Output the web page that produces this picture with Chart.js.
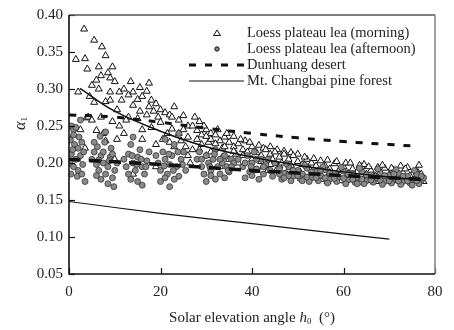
<!DOCTYPE html>
<html>
<head>
<meta charset="utf-8">
<script src="https://cdn.jsdelivr.net/npm/chart.js@4.4.1/dist/chart.umd.min.js"></script>
<style>
  html, body { margin: 0; padding: 0; background: #fff; }
</style>
</head>
<body>
<canvas id="chart" width="454" height="330"></canvas>
<script>
// scatter data: [solar elevation angle, alpha1]
const morningPts = [
  [1.5,0.340],[3.3,0.381],[3.5,0.341],[5.5,0.366],[7.2,0.357],[6.5,0.330],[8,0.345],[7,0.318],[8.5,0.322],[9,0.315],
  [9.5,0.330],[10,0.310],[6,0.312],[5,0.305],[4,0.327],[2,0.296],[3.8,0.261],[4.2,0.262],[2.5,0.245],[6,0.244],
  [7.5,0.240],[5.5,0.282],[8,0.283],[9,0.285],[9.5,0.256],[11,0.250],[12,0.240],[10.5,0.232],[8,0.230],[3.5,0.220],
  [1,0.238],[11,0.296],[12,0.300],[13,0.292],[13.5,0.310],[14,0.296],[15,0.286],[15.5,0.302],[14,0.278],[16,0.290],
  [17,0.297],[17.5,0.308],[18,0.285],[19,0.280],[20,0.272],[19.5,0.262],[17,0.265],[15,0.260],[13,0.262],[12.5,0.258],
  [16,0.245],[18,0.248],[20,0.255],[21,0.268],[22,0.265],[23,0.276],[22.5,0.262],[24,0.258],[25,0.264],[26,0.250],
  [20.5,0.232],[21.5,0.240],[22,0.228],[23,0.222],[19,0.225],[16,0.232],[14,0.185],[10,0.205],[19,0.195],
  [24,0.240],[25,0.245],[26,0.235],[27,0.250],[28,0.244],[28.5,0.256],[29,0.238],[30,0.245],[31,0.240],[29,0.225],
  [30.5,0.228],[27,0.218],[26,0.210],[25.5,0.222],[31,0.232],[32,0.238],[33,0.230],[34,0.235],[35,0.228],[33.5,0.220],
  [36,0.222],[37,0.226],[38,0.218],[36.5,0.212],[38.5,0.230],[39,0.215],[40,0.222],[41,0.214],[35,0.205],[31,0.215],
  [26.5,0.200],[33,0.195],
  [27.5,0.262],[29.5,0.250],[32.5,0.245],[34.5,0.240],[36,0.236],[37.5,0.232],[39.5,0.228],[41.5,0.224],[42.5,0.220],[44,0.222],
  [45.5,0.218],[47,0.216],[48.5,0.214],[50,0.212],[28,0.232],[30,0.236],[32,0.226],[34,0.222],[36,0.216],[38,0.210],
  [40,0.205],[42,0.202],[44,0.198],[46,0.196],[24.5,0.230],[22.5,0.246],[18.5,0.270],[17.5,0.276],[15.5,0.270],[11.5,0.285],
  [10.5,0.272],[7,0.262],[5,0.258],[9,0.296],[6.5,0.300],[4.5,0.290],[30,0.210],[37,0.200],[41,0.190],[33.5,0.208],[28.5,0.218],
  [42,0.210],[43,0.218],[44,0.212],[44.5,0.205],[45,0.215],[46,0.208],[46.5,0.200],[47,0.212],[48,0.205],[48.5,0.197],
  [49,0.210],[50,0.202],[51,0.198],[52,0.205],[52.5,0.193],[53,0.200],[54,0.196],[55,0.203],[42.5,0.195],[43.5,0.190],
  [45.5,0.192],[47.5,0.186],[50.5,0.188],[53.5,0.182],[55.5,0.178],[54,0.187],
  [56,0.196],[57,0.192],[58,0.199],[59,0.190],[60,0.195],[61,0.186],[62,0.192],[63,0.188],[64,0.195],[65,0.185],
  [66,0.190],[67,0.182],[68,0.188],[69,0.193],[70,0.184],[71,0.190],[72,0.181],[73,0.187],[74,0.194],[75,0.184],
  [76,0.190],[77,0.180],[77.5,0.175],[76.5,0.197],[75.5,0.177],[73.5,0.178],[71.5,0.176],[69.5,0.176],[67.5,0.175],[65.5,0.177],
  [63.5,0.174],[61.5,0.178],[59.5,0.176],[57.5,0.180],[56.5,0.175],[58.5,0.185],[62.5,0.183],[66.5,0.183],[70.5,0.179],[74.5,0.183],
  [60.5,0.200],[64.5,0.198],[72.5,0.196],[68.5,0.197],
  [51.5,0.208],[53.5,0.206],[56.5,0.204],[58.5,0.202],[61.5,0.200],[63.5,0.197],[65.5,0.195],[67.5,0.194],[70.5,0.193],[73.5,0.192],
  [76,0.187],[57,0.187],[61,0.182],[65,0.180],[69,0.179],[73,0.180],[77,0.185]
];
const afternoonPts = [
  [0.5,0.250],[0.3,0.231],[1,0.245],[1.5,0.248],[2.5,0.258],[1.2,0.225],[2,0.220],[0.5,0.212],[1.5,0.205],[2.5,0.210],
  [0.2,0.200],[1,0.195],[2,0.190],[0.4,0.185],[1.8,0.182],[3,0.198],[2.8,0.185],[3.5,0.175],[3.2,0.215],
  [1,0.238],[2.2,0.235],[0.8,0.218],[2.8,0.228],
  [5,0.205],[5.5,0.215],[6,0.198],[6.5,0.190],[7,0.210],[7.5,0.200],[8,0.185],[8.5,0.195],[9,0.208],[9.5,0.180],
  [10,0.190],[6.2,0.222],[7.8,0.228],[9.2,0.220],[10.5,0.200],[7,0.178],[8.5,0.172],[9.8,0.168],[6,0.183],[5.5,0.228],[8,0.242],
  [6.8,0.236],[7.5,0.215],[8.8,0.203],[9.5,0.212],[6.5,0.204],
  [12,0.205],[12.5,0.195],[13,0.212],[13.5,0.225],[14,0.200],[14.5,0.190],[15,0.208],[15.5,0.218],[16,0.195],[16.5,0.185],
  [17,0.203],[13,0.185],[15,0.175],[16,0.170],[14,0.235],[17.5,0.215],
  [13.8,0.210],[14.8,0.198],[15.8,0.205],[16.8,0.195],[13.5,0.178],
  [19,0.210],[19.5,0.200],[20,0.190],[20.5,0.215],[21,0.205],[21.5,0.185],[22,0.198],[22.5,0.210],[23,0.225],[23.5,0.195],
  [24,0.182],[24.5,0.205],[25,0.215],[25.5,0.190],[20,0.175],[22,0.168],[23,0.178],[21,0.232],[24,0.240],
  [20.8,0.196],[21.8,0.212],[22.8,0.190],[23.8,0.215],[24.8,0.198],[21,0.180],
  [28,0.205],[28.5,0.215],[29,0.195],[29.5,0.185],[30,0.210],[30.5,0.200],[31,0.190],[31.5,0.205],[32,0.218],[32.5,0.195],
  [33,0.185],[33.5,0.200],[34,0.210],[34.5,0.195],[35,0.188],[35.5,0.205],[36,0.200],[30,0.175],[32,0.178],[34,0.180],
  [29,0.205],[30.8,0.195],[31.8,0.212],[33,0.205],[34.8,0.190],[35.5,0.195],[31,0.183],
  [37,0.205],[38,0.195],[39,0.210],[39.5,0.188],[40,0.200],[41,0.192],[42,0.205],[42.5,0.185],[43,0.198],[44,0.190],
  [45,0.200],[38.5,0.180],[41.5,0.178],[44.5,0.182],[40.5,0.215],
  [38.5,0.200],[39.8,0.195],[41,0.205],[42.5,0.195],[43.5,0.205],[40,0.183],
  [46,0.192],[47,0.186],[48,0.195],[49,0.182],[50,0.190],[51,0.185],[52,0.193],[53,0.180],[54,0.188],[55,0.183],
  [56,0.191],[57,0.178],[58,0.186],[59,0.181],[60,0.189],[61,0.177],[62,0.185],[63,0.180],[64,0.188],[65,0.176],
  [66,0.184],[67,0.179],[68,0.187],[69,0.175],[70,0.183],[71,0.178],[72,0.186],[73,0.175],[74,0.182],[75,0.177],
  [76,0.185],[77,0.176],[77.5,0.180],[46.5,0.178],[48.5,0.176],[50.5,0.179],[52.5,0.175],[54.5,0.176],[56.5,0.173],[58.5,0.175],
  [60.5,0.172],[62.5,0.174],[64.5,0.172],[66.5,0.174],[68.5,0.171],[70.5,0.173],[72.5,0.171],[74.5,0.173],[76.5,0.172],
  [47.5,0.199],[51.5,0.197],[55.5,0.195],[59.5,0.194],[63.5,0.193],[67.5,0.192],[71.5,0.191],[75.5,0.190],
  [46,0.185],[48,0.183],[50,0.183],[52,0.181],[54,0.180],[56,0.180],[58,0.179],[60,0.179],[62,0.178],[64,0.178],
  [66,0.177],[68,0.177],[70,0.176],[72,0.176],[74,0.176],[76,0.176],[49,0.190],[53,0.188],[57,0.186],[61,0.185],
  [65,0.184],[69,0.183],[73,0.182],[77,0.182],[47,0.180],[51,0.176],[55,0.190],[63,0.172],[71,0.185],[75,0.170]
];

// fitted / reference curves
const morningFitX = [2.4, 10, 20, 30, 40, 50, 60, 70, 77];
const morningFitY = [0.301, 0.270, 0.243, 0.222, 0.208, 0.197, 0.188, 0.181, 0.177];
const afternoonFitX = [0, 20, 40, 60, 77];
const afternoonFitY = [0.205, 0.198, 0.190, 0.183, 0.178];
const dunhuangX = [0, 10, 20, 30, 40, 50, 60, 70, 75];
const dunhuangY = [0.265, 0.262, 0.255, 0.247, 0.240, 0.234, 0.229, 0.225, 0.223];
const changbaiX = [0, 20, 40, 60, 70];
const changbaiY = [0.148, 0.132, 0.118, 0.104, 0.097];

const xTicks = [0, 20, 40, 60, 80];
const yTicks = [0.05, 0.10, 0.15, 0.20, 0.25, 0.30, 0.35, 0.40];

const labels = ["Loess plateau lea (morning)", "Loess plateau lea (afternoon)", "Dunhuang desert", "Mt. Changbai pine forest"];

const FONT = '"Liberation Serif", "DejaVu Serif", serif';
const toXY = (xs, ys) => xs.map((x, i) => ({ x: x, y: ys[i] }));
const pts = arr => arr.map(p => ({ x: p[0], y: p[1] }));

// inward ticks, box, titles and in-plot legend
const decor = {
  id: 'decor',
  afterDraw(chart) {
    const c = chart.ctx, a = chart.chartArea;
    const xs = chart.scales.x, ys = chart.scales.y;
    c.save();
    c.strokeStyle = '#111';
    c.lineWidth = 1.2;
    xTicks.forEach(v => {
      const px = Math.round(xs.getPixelForValue(v)) + 0.5;
      c.beginPath(); c.moveTo(px, a.bottom); c.lineTo(px, a.bottom - 6); c.stroke();
    });
    yTicks.forEach(v => {
      const py = Math.round(ys.getPixelForValue(v)) + 0.5;
      c.beginPath(); c.moveTo(a.left, py); c.lineTo(a.left + 6, py); c.stroke();
    });
    // frame
    c.lineWidth = 1.6;
    c.strokeStyle = '#555';
    c.beginPath(); c.moveTo(a.left, a.top); c.lineTo(a.right, a.top); c.stroke();
    c.strokeStyle = '#888';
    c.beginPath(); c.moveTo(a.right, a.top); c.lineTo(a.right, a.bottom); c.stroke();
    c.strokeStyle = '#111';
    c.beginPath(); c.moveTo(a.left, a.top); c.lineTo(a.left, a.bottom); c.lineTo(a.right, a.bottom); c.stroke();

    // x title
    c.fillStyle = '#222';
    c.textBaseline = 'middle';
    const parts = [
      { t: 'Solar elevation angle ', f: '15px ' + FONT, dy: 0 },
      { t: 'h', f: 'italic 15px ' + FONT, dy: 0 },
      { t: '0', f: '9px ' + FONT, dy: 4 },
      { t: '  (°)', f: '15px ' + FONT, dy: 0 }
    ];
    let w = 0;
    parts.forEach(p => { c.font = p.f; p.w = c.measureText(p.t).width; w += p.w; });
    let x0 = (a.left + a.right) / 2 - w / 2;
    c.textAlign = 'left';
    parts.forEach(p => { c.font = p.f; c.fillText(p.t, x0, 318 + p.dy); x0 += p.w; });

    // y title (rotated)
    c.save();
    c.translate(21, 124);
    c.rotate(-Math.PI / 2);
    c.font = 'italic 16px ' + FONT;
    const aw = c.measureText('α').width;
    c.fillText('α', -6, 0);
    c.font = '9px ' + FONT;
    c.fillText('1', -6 + aw, 4);
    c.restore();

    // legend
    const lx = 247, rows = [33, 49, 65, 81];
    c.font = '14.5px ' + FONT;
    c.fillStyle = '#222';
    labels.forEach((t, i) => c.fillText(t, lx, rows[i]));
    // triangle
    c.lineWidth = 1;
    c.strokeStyle = '#111';
    c.fillStyle = '#fff';
    c.beginPath();
    c.moveTo(217, rows[0] - 3); c.lineTo(220.5, rows[0] + 2.5); c.lineTo(213.5, rows[0] + 2.5); c.closePath();
    c.fill(); c.stroke();
    // circle
    c.fillStyle = '#8a8a8a';
    c.beginPath(); c.arc(217, rows[1], 2.2, 0, Math.PI * 2); c.fill(); c.stroke();
    // dashed
    c.lineWidth = 3;
    c.setLineDash([7, 9]);
    c.beginPath(); c.moveTo(189, rows[2]); c.lineTo(244, rows[2]); c.stroke();
    c.setLineDash([]);
    c.lineWidth = 1.2;
    c.beginPath(); c.moveTo(189, rows[3]); c.lineTo(244, rows[3]); c.stroke();
    c.restore();
  }
};

const ctx = document.getElementById('chart').getContext('2d');
const chart = new Chart(ctx, {
  type: 'scatter',
  data: {
    datasets: [
      {
        label: labels[0],
        data: pts(morningPts),
        pointStyle: 'triangle',
        pointRadius: 4,
        pointBackgroundColor: '#fff',
        pointBorderColor: '#111',
        pointBorderWidth: 1,
        order: 3
      },
      {
        label: labels[1],
        data: pts(afternoonPts),
        pointStyle: 'circle',
        pointRadius: 3,
        pointBackgroundColor: '#8a8a8a',
        pointBorderColor: '#333',
        pointBorderWidth: 0.8,
        order: 2
      },
      {
        type: 'line',
        label: 'morning fit',
        data: toXY(morningFitX, morningFitY),
        borderColor: '#111',
        borderWidth: 1.5,
        pointRadius: 0,
        tension: 0.4,
        order: 1
      },
      {
        type: 'line',
        label: 'afternoon fit',
        data: toXY(afternoonFitX, afternoonFitY),
        borderColor: '#111',
        borderWidth: 3.5,
        borderDash: [12, 8],
        pointRadius: 0,
        tension: 0.3,
        order: 1
      },
      {
        type: 'line',
        label: labels[2],
        data: toXY(dunhuangX, dunhuangY),
        borderColor: '#111',
        borderWidth: 3,
        borderDash: [7, 9],
        pointRadius: 0,
        tension: 0.4,
        order: 0
      },
      {
        type: 'line',
        label: labels[3],
        data: toXY(changbaiX, changbaiY),
        borderColor: '#111',
        borderWidth: 1.2,
        pointRadius: 0,
        tension: 0.3,
        order: 0
      }
    ]
  },
  options: {
    responsive: false,
    animation: false,
    layout: { padding: { top: 13, right: 19, left: 0, bottom: 0 } },
    plugins: { legend: { display: false }, tooltip: { enabled: false } },
    scales: {
      x: {
        type: 'linear',
        min: 0,
        max: 80,
        afterFit: s => { s.height = 56; },
        afterBuildTicks: s => { s.ticks = xTicks.map(v => ({ value: v })); },
        grid: { display: false, drawTicks: false },
        border: { display: false },
        ticks: { padding: 9, color: '#222', font: { family: FONT, size: 15 } }
      },
      y: {
        min: 0.05,
        max: 0.40,
        afterFit: s => { s.width = 69; },
        afterBuildTicks: s => { s.ticks = yTicks.map(v => ({ value: v })); },
        grid: { display: false, drawTicks: false },
        border: { display: false },
        ticks: { padding: 6, color: '#222', font: { family: FONT, size: 15 }, callback: v => v.toFixed(2) }
      }
    }
  },
  plugins: [decor]
});
</script>
</body>
</html>
